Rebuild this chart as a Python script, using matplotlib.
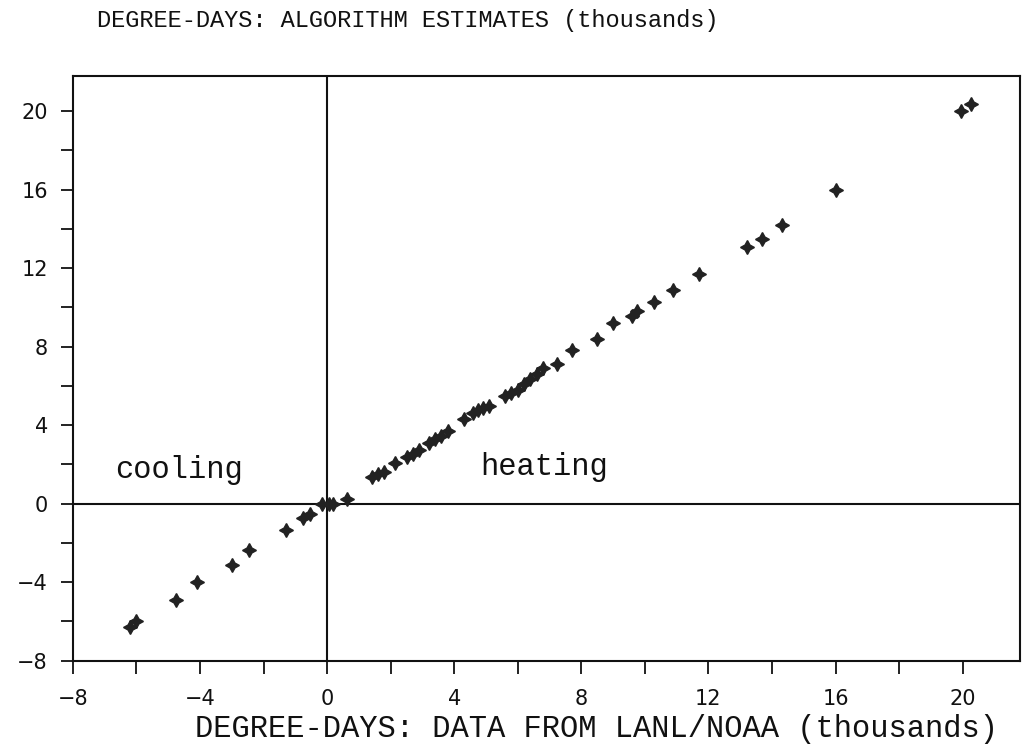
import numpy as np
import matplotlib
matplotlib.use('Agg')
import matplotlib.pyplot as plt
from matplotlib.ticker import MultipleLocator

# degree-days, thousands
lanl_noaa = [-6.2, -6.0, -4.75, -4.1, -3.0, -2.45, -1.3, -0.75, -0.55,
             -0.15, 0.05, 0.2, 0.63,
             1.4, 1.6, 1.8, 2.15, 2.5, 2.7, 2.9, 3.2, 3.4, 3.6, 3.8,
             4.3, 4.6, 4.75, 4.9, 5.1, 5.6, 5.8, 6.0, 6.2, 6.4, 6.6, 6.8,
             7.25, 7.7, 8.5, 9.0, 9.6, 9.75, 10.3, 10.9, 11.7,
             13.2, 13.7, 14.3, 16.0, 19.95, 20.25]
algorithm = [-6.3, -6.0, -4.9, -4.0, -3.1, -2.35, -1.33, -0.75, -0.5,
             0.0, 0.0, 0.0, 0.25,
             1.35, 1.5, 1.6, 2.05, 2.4, 2.55, 2.75, 3.1, 3.3, 3.45, 3.7,
             4.3, 4.6, 4.75, 4.9, 5.0, 5.5, 5.65, 5.8, 6.1, 6.35, 6.6, 6.9,
             7.1, 7.85, 8.4, 9.2, 9.55, 9.8, 10.3, 10.9, 11.7,
             13.1, 13.5, 14.2, 16.0, 20.0, 20.35]

x_ticks = [-8, -4, 0, 4, 8, 12, 16, 20]
y_ticks = [-8, -4, 0, 4, 8, 12, 16, 20]

mono = 'Liberation Mono'

fig = plt.figure(figsize=(10.26, 7.5), dpi=100)
ax = fig.add_axes([0.071, 0.119, 0.923, 0.780])

ax.axhline(0, color='#111111', lw=1.5, zorder=1)
ax.axvline(0, color='#111111', lw=1.5, zorder=1)
ax.plot(lanl_noaa, algorithm, ls='none', marker=(4, 1, 0), ms=10,
        color='#222222', zorder=3)

ax.set_xlim(-8, 21.8)
ax.set_ylim(-8, 21.8)
ax.set_xticks(x_ticks)
ax.set_yticks(y_ticks)
ax.xaxis.set_minor_locator(MultipleLocator(2))
ax.yaxis.set_minor_locator(MultipleLocator(2))
ax.set_xticklabels([str(t).replace('-', '\u2212') for t in x_ticks])
ax.set_yticklabels([str(t).replace('-', '\u2212') for t in y_ticks])
ax.tick_params(which='both', direction='out', length=9, width=1.3,
               color='#111111')
ax.tick_params(axis='both', labelsize=15, pad=9, labelcolor='#111111')
ax.tick_params(axis='x', pad=11)

for s in ax.spines.values():
    s.set_linewidth(1.5)
    s.set_color('#111111')

ax.text(-4.66, 1.73, 'cooling', family=mono, fontsize=22, ha='center',
        va='center', color='#111111')
ax.text(6.83, 1.89, 'heating', family=mono, fontsize=22, ha='center',
        va='center', color='#111111')

fig.text(0.095, 0.972, 'DEGREE-DAYS: ALGORITHM ESTIMATES (thousands)',
         family=mono, fontsize=17, ha='left', va='center', color='#111111')
fig.text(0.19, 0.028, 'DEGREE-DAYS: DATA FROM LANL/NOAA (thousands)',
         family=mono, fontsize=22, ha='left', va='center', color='#111111')

fig.savefig('out.png', dpi=100)
